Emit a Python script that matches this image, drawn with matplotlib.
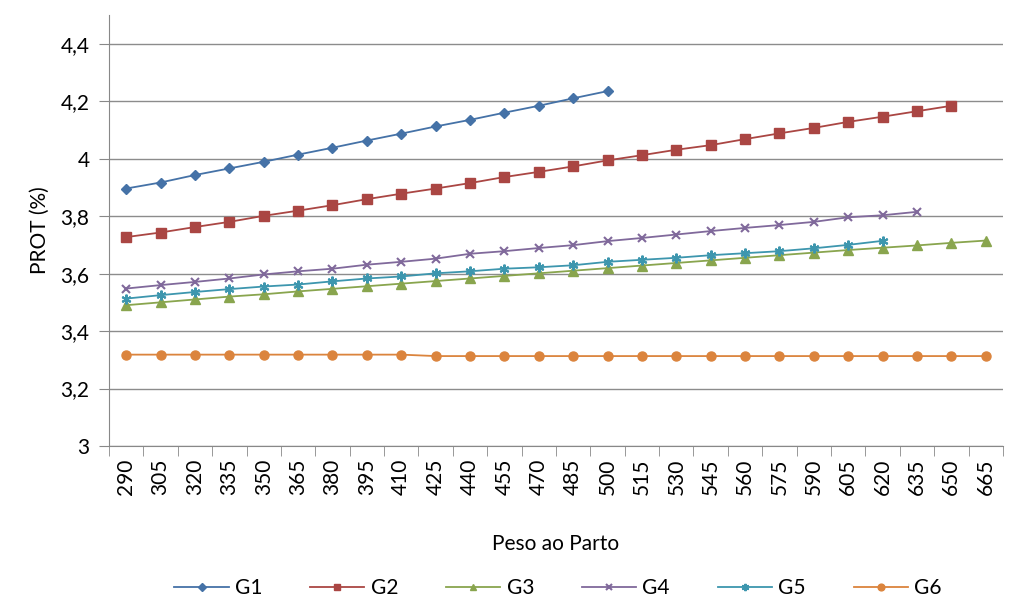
import matplotlib
matplotlib.use("Agg")
import matplotlib.pyplot as plt
from matplotlib.ticker import FuncFormatter

categories = [290, 305, 320, 335, 350, 365, 380, 395, 410, 425, 440, 455, 470,
              485, 500, 515, 530, 545, 560, 575, 590, 605, 620, 635, 650, 665]

g1 = [3.896, 3.917, 3.943, 3.966, 3.989, 4.014, 4.038, 4.063, 4.087, 4.112,
      4.135, 4.160, 4.184, 4.210, 4.235]
g2 = [3.727, 3.743, 3.762, 3.780, 3.801, 3.819, 3.838, 3.859, 3.878, 3.896,
      3.915, 3.936, 3.954, 3.973, 3.994, 4.012, 4.031, 4.047, 4.068, 4.088,
      4.107, 4.128, 4.146, 4.165, 4.184]
g3 = [3.490, 3.500, 3.510, 3.520, 3.528, 3.538, 3.547, 3.556, 3.565, 3.574,
      3.583, 3.592, 3.601, 3.610, 3.619, 3.628, 3.637, 3.646, 3.655, 3.664,
      3.673, 3.682, 3.690, 3.698, 3.707, 3.715]
g4 = [3.548, 3.560, 3.571, 3.583, 3.597, 3.608, 3.617, 3.631, 3.641, 3.652,
      3.669, 3.678, 3.689, 3.699, 3.713, 3.724, 3.736, 3.748, 3.759, 3.769,
      3.780, 3.796, 3.803, 3.815]
g5 = [3.513, 3.525, 3.536, 3.546, 3.555, 3.562, 3.573, 3.583, 3.590, 3.601,
      3.608, 3.617, 3.622, 3.629, 3.641, 3.648, 3.655, 3.664, 3.671, 3.678,
      3.688, 3.700, 3.714]
g6 = [3.318, 3.318, 3.318, 3.318, 3.318, 3.318, 3.318, 3.318, 3.318, 3.313,
      3.313, 3.313, 3.313, 3.313, 3.313, 3.313, 3.313, 3.313, 3.313, 3.313,
      3.313, 3.313, 3.313, 3.313, 3.313, 3.313]

series_names = ["G1", "G2", "G3", "G4", "G5", "G6"]
yticks = [3.0, 3.2, 3.4, 3.6, 3.8, 4.0, 4.2, 4.4]

plt.rcParams['font.family'] = ['Lato', 'DejaVu Sans']

fig = plt.figure(figsize=(10.09, 5.99), dpi=100)
ax = fig.add_axes([0.108, 0.2554, 0.886, 0.7196])

styles = [
    dict(color="#4572A7", marker="D", ms=5.5),
    dict(color="#AA4643", marker="s", ms=6.5),
    dict(color="#89A54E", marker="^", ms=6.5),
    dict(color="#80699B", marker="x", ms=5.5, mew=1.5),
    dict(color="#3D96AE", marker=(6, 2, 0), ms=7, mew=1.5),
    dict(color="#DB843D", marker="o", ms=6.5),
]
data = [g1, g2, g3, g4, g5, g6]
xpos = list(range(len(categories)))
for name, vals, st in zip(series_names, data, styles):
    ax.plot(xpos[:len(vals)], vals, label=name, lw=1.3, **st)

ax.set_xlim(-0.5, len(categories) - 0.5)
ax.set_ylim(3.0, 4.5)
ax.set_yticks(yticks)
ax.yaxis.set_major_formatter(FuncFormatter(lambda v, p: (f"{v:.1f}".rstrip('0').rstrip('.')).replace('.', ',')))
ax.set_xticks(xpos)
ax.set_xticklabels([str(c) for c in categories], rotation=90, fontsize=15)
ax.set_xticks([i - 0.5 for i in range(len(categories) + 1)], minor=True)
ax.tick_params(axis='x', which='major', length=0, pad=9)
ax.tick_params(axis='x', which='minor', length=7, color='#888888', direction='out')
ax.tick_params(axis='y', labelsize=15, length=7, color='#888888', pad=7)

ax.grid(axis='y', color='#8c8c8c', lw=1)
ax.set_axisbelow(True)
for s in ['top', 'right']:
    ax.spines[s].set_visible(False)
for s in ['left', 'bottom']:
    ax.spines[s].set_color('#888888')

ax.set_ylabel("PROT (%)", fontsize=15, labelpad=8)
ax.set_xlabel("Peso ao Parto", fontsize=15, labelpad=28)

fig.legend(loc='lower center', bbox_to_anchor=(0.553, -0.03), ncol=6, frameon=False,
           fontsize=15, columnspacing=2.3, handlelength=2.6, handletextpad=0.3,
           markerscale=0.75)

fig.savefig("out.png", dpi=100)
